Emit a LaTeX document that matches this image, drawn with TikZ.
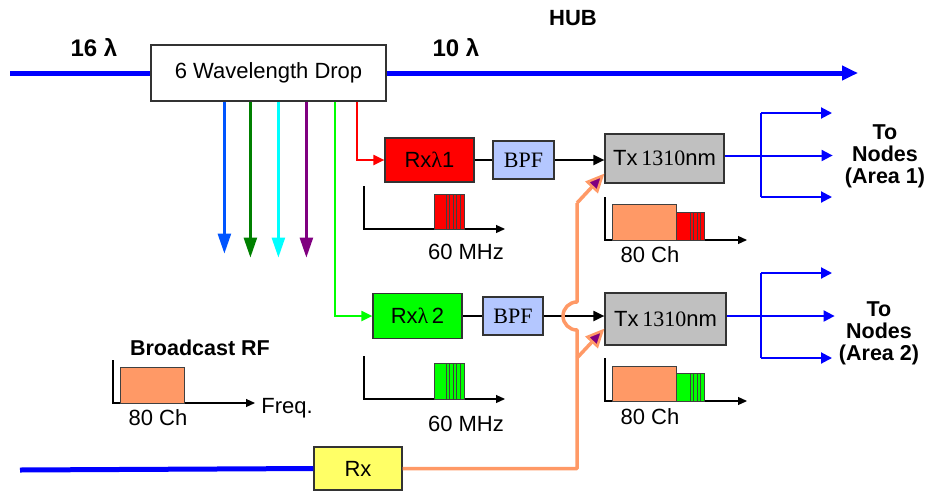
\documentclass[tikz,border=0pt]{standalone}
\usepackage{fontspec}
\setmainfont{Liberation Sans}
\newfontfamily\serfont{Liberation Serif}
\usetikzlibrary{arrows.meta,positioning,calc}

\definecolor{fibreblue}{RGB}{0,0,255}
\definecolor{dropblue}{RGB}{0,85,255}
\definecolor{dropgreen}{RGB}{0,128,0}
\definecolor{dropcyan}{RGB}{0,255,255}
\definecolor{droppurple}{RGB}{128,0,128}
\definecolor{litegreen}{RGB}{0,255,0}
\definecolor{rxred}{RGB}{255,0,0}
\definecolor{bpfblue}{RGB}{180,199,255}
\definecolor{txgray}{RGB}{192,192,192}
\definecolor{rforange}{RGB}{255,153,102}
\definecolor{rxyellow}{RGB}{255,255,102}

\begin{document}
\begin{tikzpicture}[x=1pt, y=-1pt,
    blk/.style={draw=black!80, line width=1.2pt, inner sep=0pt, font=\fontsize{22}{26}\selectfont},
    lbl/.style={font=\fontsize{22}{26}\selectfont},
    head/.style={font=\bfseries\fontsize{21.5}{22}\selectfont, align=center},
    fibre/.style={fibreblue, line width=5pt},
    dropline/.style={#1, line width=2.5pt, -{Triangle[length=20pt,width=13pt]}},
    sig/.style={line width=2pt, -{Triangle[length=11pt,width=10pt]}},
    feed/.style={fibreblue, line width=2pt, -{Triangle[length=11pt,width=11pt]}},
    rfline/.style={rforange, line width=3.5pt, line join=round},
    rftip/.style={rfline, -{Triangle[length=19pt,width=17pt,line width=2.5pt,fill=droppurple]}},
    axis/.style={black, line width=1.2pt, -{Triangle[length=9pt,width=8pt]}},
    band/.style={draw=black!75, line width=1pt}
]
\useasboundingbox (0,0) rectangle (931,490);

% fibre in and out of the hub
\node[blk, fill=white, minimum width=235pt, minimum height=56pt] (drop) at (268.5,73) {6 Wavelength Drop};
\coordinate (fin) at (10,73);
\coordinate (fout) at (858,73);
\draw[fibre] (fin) -- (drop.west);
\draw[fibre, -{Triangle[length=16pt,width=14pt]}] (drop.east) -- (fout);
\node[font=\bfseries\fontsize{24}{28}\selectfont] (lin) at (94,48) {16 λ};
\node[font=\bfseries\fontsize{24}{28}\selectfont] (lout) at (456,48) {10 λ};
\node[font=\bfseries\fontsize{22}{26}\selectfont] (hub) at (573,18) {HUB};

% dropped wavelengths
\draw[dropline=dropblue] ([xshift=74pt]drop.south west) -- ++(0,152);
\draw[dropline=dropgreen] ([xshift=100pt]drop.south west) -- ++(0,156);
\draw[dropline=dropcyan] ([xshift=128pt]drop.south west) -- ++(0,156);
\draw[dropline=droppurple] ([xshift=156pt]drop.south west) -- ++(0,156);

% channel 1
\node[blk, fill=rxred, minimum width=89pt, minimum height=44pt] (rxa) at (429.5,160) {Rx{\serfont λ}1};
\node[blk, fill=bpfblue, minimum width=61pt, minimum height=38pt, font=\serfont\fontsize{22}{26}\selectfont] (bpfa) at (523.5,160) {BPF};
\node[blk, fill=txgray, minimum width=119pt, minimum height=49pt] (txa) at (664.5,158.5) {Tx\,{\serfont 1310}nm};
\draw[rxred, sig] ([xshift=207pt]drop.south west) |- (rxa.west);
\draw[line width=2pt] (rxa.east) -- (bpfa.west);
\draw[sig] (bpfa.east) -- (bpfa.east -| txa.west);

% channel 2
\node[blk, fill=litegreen, minimum width=89pt, minimum height=45pt] (rxb) at (417.5,316) {Rx{\serfont λ}\,2};
\node[blk, fill=bpfblue, minimum width=60pt, minimum height=38pt, font=\serfont\fontsize{22}{26}\selectfont] (bpfb) at (513,316) {BPF};
\node[blk, fill=txgray, minimum width=121pt, minimum height=52pt] (txb) at (665.5,319) {Tx\,{\serfont 1310}nm};
\draw[litegreen, sig] ([xshift=185pt]drop.south west) |- (rxb.west);
\draw[line width=2pt] (rxb.east) -- (bpfb.west);
\draw[sig] (bpfb.east) -- (bpfb.east -| txb.west);

% broadcast RF feed
\node[blk, fill=rxyellow, minimum width=88pt, minimum height=43pt] (rx) at (358,468.5) {Rx};
\coordinate (bin) at (20,470);
\draw[fibre] (bin) -- (rx.west);
\coordinate (tapa) at (577,203);
\coordinate (tapb) at (577,358);
\draw[rfline] (rx.east) -- (rx.east -| tapb) -- (577,330) arc[start angle=90, end angle=270, radius=14] -- (tapa);
\draw[rftip] (tapa) -- ([yshift=10pt]txa.south west);
\draw[rftip] (tapb) -- ([yshift=17pt]txb.south west);

% outputs to the nodes
\foreach \tx/\ya/\yb/\area in {txa/113/197/1, txb/273/358/2} {
  \coordinate (sp\area) at (761,\ya);
  \draw[feed] ([yshift=3pt]\tx.east) -- ++(108,0);
  \draw[fibreblue, line width=2pt] (sp\area) -- (761,\yb);
  \draw[feed] (sp\area) -- ++(71,0);
  \draw[feed] (761,\yb) -- ++(71,0);
}
\node[head] (areaa) at (885,156) {To\\Nodes\\(Area 1)};
\node[head] (areab) at (879,333) {To\\Nodes\\(Area 2)};

% spectra
\draw[axis] (364,186) |- (505,229);
\draw[band, fill=rxred] (434,194) rectangle (464,229);
\foreach \x in {446,449.5,453,456.5,460} \draw[band] (\x,194) -- (\x,229);
\node[lbl] (mhza) at (466,252) {60 MHz};

\draw[axis] (364,356) |- (505,399);
\draw[band, fill=litegreen] (434,363) rectangle (464,399);
\foreach \x in {446,449.5,453,456.5,460} \draw[band] (\x,363) -- (\x,399);
\node[lbl] (mhzb) at (466,424) {60 MHz};

\draw[axis] (605,197) |- (747,240);
\draw[band, fill=rforange] (612,204) rectangle (676,240);
\draw[band, fill=rxred] (676,212) rectangle (704,240);
\foreach \x in {690,693.5,697,700.5} \draw[band] (\x,212) -- (\x,240);
\node[lbl] (cha) at (650,255) {80 Ch};

\draw[axis] (605,358) |- (747,401);
\draw[band, fill=rforange] (612,366) rectangle (676,401);
\draw[band, fill=litegreen] (676,373) rectangle (704,401);
\foreach \x in {690,693.5,697,700.5} \draw[band] (\x,373) -- (\x,401);
\node[lbl] (chb) at (650,417) {80 Ch};

\node[head] (bcast) at (200,348) {Broadcast RF};
\draw[axis] (113,360) |- (255,403);
\draw[band, fill=rforange] (120,367) rectangle (184,403);
\node[lbl] (chc) at (158,418) {80 Ch};
\node[lbl] (freq) at (287,408) {Freq.};
\end{tikzpicture}
\end{document}
